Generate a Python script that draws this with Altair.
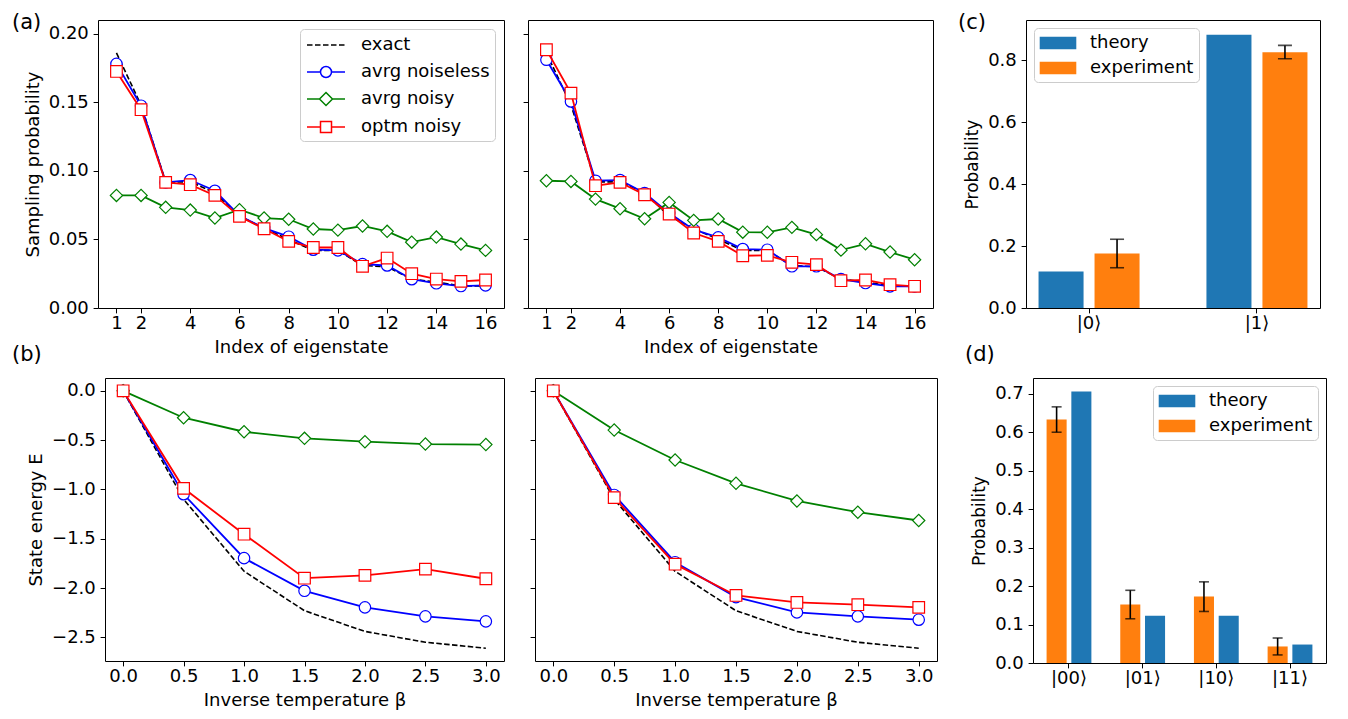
import altair as alt
import pandas as pd

# ---------------- data ----------------
eig_index = list(range(1, 17))
exact_prob = [0.186, 0.148, 0.092, 0.092, 0.084, 0.067, 0.058, 0.050, 0.042, 0.042, 0.031, 0.030, 0.021, 0.019, 0.016, 0.016]
a_left_noiseless = [0.178, 0.1475, 0.0916, 0.0933, 0.0855, 0.0673, 0.0583, 0.052, 0.0425, 0.042, 0.032, 0.031, 0.021, 0.018, 0.016, 0.0165]
a_left_noisy = [0.0821, 0.0821, 0.0734, 0.0714, 0.0656, 0.0717, 0.0656, 0.0647, 0.0576, 0.0568, 0.0598, 0.0559, 0.048, 0.0517, 0.0466, 0.042]
a_left_optm = [0.1725, 0.1446, 0.0916, 0.0899, 0.0821, 0.0668, 0.0578, 0.0486, 0.0441, 0.0441, 0.0304, 0.0364, 0.025, 0.0211, 0.0194, 0.0204]
a_right_noiseless = [0.181, 0.1506, 0.0928, 0.0933, 0.0838, 0.0692, 0.0571, 0.0515, 0.043, 0.0425, 0.0304, 0.0304, 0.0211, 0.0182, 0.0158, 0.0158]
a_right_noisy = [0.0928, 0.0923, 0.0794, 0.0724, 0.0651, 0.077, 0.0639, 0.0649, 0.0553, 0.0552, 0.0588, 0.0535, 0.0422, 0.0468, 0.0408, 0.0352]
a_right_optm = [0.1883, 0.1567, 0.0892, 0.0916, 0.0826, 0.0685, 0.0547, 0.0486, 0.0381, 0.0384, 0.0333, 0.0316, 0.0199, 0.0204, 0.017, 0.0158]

beta = [0.0, 0.5, 1.0, 1.5, 2.0, 2.5, 3.0]
exact_energy = [0.0, -1.10, -1.83, -2.23, -2.44, -2.55, -2.61]
b_left_noiseless = [0.0, -1.049, -1.697, -2.028, -2.196, -2.287, -2.338]
b_left_noisy = [0.0, -0.273, -0.415, -0.482, -0.516, -0.54, -0.545]
b_left_optm = [0.0, -0.989, -1.454, -1.90, -1.872, -1.808, -1.906]
b_right_noiseless = [0.0, -1.056, -1.738, -2.092, -2.247, -2.287, -2.321]
b_right_noisy = [0.0, -0.398, -0.702, -0.938, -1.117, -1.231, -1.315]
b_right_optm = [0.0, -1.083, -1.758, -2.075, -2.146, -2.169, -2.196]

c_states = ["|0⟩", "|1⟩"]
c_theory = [0.118, 0.882]
c_experiment = [0.176, 0.826]
c_err_low = [0.130, 0.805]
c_err_high = [0.222, 0.848]

d_states = ["|00⟩", "|01⟩", "|10⟩", "|11⟩"]
d_theory = [0.706, 0.123, 0.123, 0.048]
d_experiment = [0.633, 0.152, 0.173, 0.043]
d_err_low = [0.600, 0.115, 0.134, 0.021]
d_err_high = [0.666, 0.189, 0.211, 0.065]

series_names = ["exact", "avrg noiseless", "avrg noisy", "optm noisy"]
series_colors = ["#000000", "#0000ff", "#008000", "#ff0000"]
marker_shapes = ["circle", "diamond", "square"]
marker_sizes = [130, 150, 135]
bar_kinds = ["theory", "experiment"]
bar_colors = ["#1f77b4", "#ff7f0e"]

FONT = "DejaVu Sans"
TICK_FS = 18
TITLE_FS = 18
LEG_FS = 18
PANEL_FS = 21

# legend symbols (line + marker)
def seg_line(r):
    return f"M-1.9,0H{-r}M{r},0H1.9"

circle_r = 0.55
legend_paths = [
    "M-1.9,0H-1.35M-1.1,0H-0.55M-0.3,0H0.25M0.5,0H1.05M1.3,0H1.85",
    seg_line(circle_r) + f"M{-circle_r},0A{circle_r},{circle_r} 0 1 0 {circle_r},0A{circle_r},{circle_r} 0 1 0 {-circle_r},0Z",
    seg_line(0.65) + "M0,-0.65L0.65,0L0,0.65L-0.65,0Z",
    seg_line(0.55) + "M-0.55,-0.55H0.55V0.55H-0.55Z",
]
rect_path = "M-1.83,-0.63H1.83V0.63H-1.83Z"


def panel_title(text, dx, dy):
    return alt.TitleParams(text=text, anchor="start", frame="group", fontSize=PANEL_FS,
                           fontWeight="normal", font=FONT, color="black", dx=dx, dy=dy, offset=0)


def spacer():
    return (alt.Chart(pd.DataFrame({"s": [""]})).mark_text().encode(text="s:N")
            .properties(width=1, height=1, view=alt.ViewBackground(stroke="transparent")))


def line_panel(xs, series_vals, xdom, xticks, xfmt, xtitle, ydom, yticks, yfmt, ytitle,
               show_ylabels, legend, width, height, title):
    rows = []
    for name, vals in zip(series_names, series_vals):
        for xv, yv in zip(xs, vals):
            rows.append({"x": xv, "y": yv, "series": name})
    df = pd.DataFrame(rows)
    base = alt.Chart(df)
    xenc = alt.X("x:Q", scale=alt.Scale(domain=xdom, nice=False, zero=False),
                 axis=alt.Axis(values=xticks, format=xfmt, title=xtitle))
    if show_ylabels:
        yaxis = alt.Axis(values=yticks, format=yfmt, title=ytitle)
    else:
        yaxis = alt.Axis(values=yticks, labels=False, title=None)
    yenc = alt.Y("y:Q", scale=alt.Scale(domain=ydom, nice=False, zero=False), axis=yaxis)

    layers = [
        base.transform_filter(alt.datum.series == "exact")
        .mark_line(color="black", strokeDash=[5.5, 2.4], strokeWidth=1.6)
        .encode(x=xenc, y=yenc)
    ]
    for name, color, shape, size in zip(series_names[1:], series_colors[1:], marker_shapes, marker_sizes):
        f = base.transform_filter(alt.datum.series == name)
        layers.append(f.mark_line(color=color, strokeWidth=1.8).encode(x=xenc, y=yenc))
        layers.append(
            f.mark_point(shape=shape, filled=True, fill="white", stroke=color, size=size,
                         strokeWidth=1.2, opacity=1).encode(x=xenc, y=yenc)
        )
    if legend:
        leg = alt.Legend(title=None, orient="top-right", offset=9, symbolSize=400,
                         symbolStrokeWidth=1.5, symbolOpacity=1, labelFontSize=LEG_FS,
                         labelFont=FONT, labelColor="black", padding=5, rowPadding=7,
                         symbolOffset=10, labelOffset=24, fillColor="white",
                         strokeColor="#cccccc", cornerRadius=4)
        ldf = pd.DataFrame({"series": series_names})
        layers.append(
            alt.Chart(ldf).transform_filter(alt.datum.series == "none")
            .mark_point(filled=False, strokeWidth=1.5)
            .encode(
                color=alt.Color("series:N", scale=alt.Scale(domain=series_names, range=series_colors), legend=leg),
                shape=alt.Shape("series:N", scale=alt.Scale(domain=series_names, range=legend_paths), legend=leg),
            )
        )
    return alt.layer(*layers).properties(width=width, height=height, title=title)


def bar_panel(states, theory, experiment, lo, hi, offset_order, pad_in, pad_out, sub_in, sub_out,
              ydom, yticks, legend_orient, cap, width, height, title):
    rows = []
    for s, t, e in zip(states, theory, experiment):
        rows.append({"state": s, "kind": "theory", "prob": t})
        rows.append({"state": s, "kind": "experiment", "prob": e})
    df = pd.DataFrame(rows)
    edf = pd.DataFrame({"state": states, "kind": ["experiment"] * len(states), "lo": lo, "hi": hi})
    xenc = alt.X("state:N", sort=states,
                 scale=alt.Scale(domain=states, paddingInner=pad_in, paddingOuter=pad_out),
                 axis=alt.Axis(title=None, labelAngle=0))
    xo = alt.XOffset("kind:N", sort=offset_order,
                     scale=alt.Scale(domain=offset_order, paddingInner=sub_in, paddingOuter=sub_out))
    yscale = alt.Scale(domain=ydom, nice=False, zero=False)
    leg = alt.Legend(title=None, orient=legend_orient, offset=8, symbolType=rect_path, symbolSize=400,
                     labelFontSize=LEG_FS, labelFont=FONT, labelColor="black", padding=5, rowPadding=6,
                     symbolOffset=9, labelOffset=22, fillColor="white", strokeColor="#cccccc",
                     cornerRadius=4, symbolStrokeWidth=0)
    bars = alt.Chart(df).mark_bar().encode(
        x=xenc, xOffset=xo,
        y=alt.Y("prob:Q", scale=yscale,
                axis=alt.Axis(values=yticks, format=".1f", title="Probability", titleFontSize=17)),
        color=alt.Color("kind:N", scale=alt.Scale(domain=bar_kinds, range=bar_colors), legend=leg),
    )
    rule = alt.Chart(edf).mark_rule(color="black", strokeWidth=1.6).encode(
        x=xenc, xOffset=xo, y=alt.Y("lo:Q", scale=yscale), y2="hi:Q")
    cap_lo = alt.Chart(edf).mark_tick(color="black", thickness=1.6, size=cap, orient="horizontal").encode(
        x=xenc, xOffset=xo, y=alt.Y("lo:Q", scale=yscale))
    cap_hi = alt.Chart(edf).mark_tick(color="black", thickness=1.6, size=cap, orient="horizontal").encode(
        x=xenc, xOffset=xo, y=alt.Y("hi:Q", scale=yscale))
    return alt.layer(bars, rule, cap_lo, cap_hi).properties(width=width, height=height, title=title)


top_x = dict(xdom=[0.25, 16.75], xticks=[1, 2, 4, 6, 8, 10, 12, 14, 16], xfmt="d", xtitle="Index of eigenstate",
             ydom=[0, 0.21], yticks=[0, 0.05, 0.10, 0.15, 0.20], yfmt=".2f")
bot_x = dict(xdom=[-0.15, 3.15], xticks=[0, 0.5, 1, 1.5, 2, 2.5, 3], xfmt=".1f", xtitle="Inverse temperature β",
             ydom=[-2.74, 0.13], yticks=[0, -0.5, -1, -1.5, -2, -2.5], yfmt=".1f")

a1 = line_panel(eig_index, [exact_prob, a_left_noiseless, a_left_noisy, a_left_optm], ytitle="Sampling probability",
                show_ylabels=True, legend=True, width=406, height=288, title=panel_title("(a)", -86, 13), **top_x)
a2 = line_panel(eig_index, [exact_prob, a_right_noiseless, a_right_noisy, a_right_optm], ytitle=None,
                show_ylabels=False, legend=False, width=405, height=288, title=panel_title(" ", 0, 13), **top_x)
b1 = line_panel(beta, [exact_energy, b_left_noiseless, b_left_noisy, b_left_optm], ytitle="State energy E",
                show_ylabels=True, legend=False, width=399, height=283, title=panel_title("(b)", -93, -13), **bot_x)
b2 = line_panel(beta, [exact_energy, b_right_noiseless, b_right_noisy, b_right_optm], ytitle=None,
                show_ylabels=False, legend=False, width=402, height=283, title=panel_title(" ", 0, -13), **bot_x)

c = bar_panel(c_states, c_theory, c_experiment, c_err_low, c_err_high, ["theory", "experiment"],
              0.333, 0.042, 0.196, 0.098, [0, 0.93], [0, 0.2, 0.4, 0.6, 0.8], "top-left", 14,
              294, 288, panel_title("(c)", -68, 13))
d = bar_panel(d_states, d_theory, d_experiment, d_err_low, d_err_high, ["experiment", "theory"],
              0.32, 0.1485, 0.19, 0.107, [0, 0.741], [0, 0.1, 0.2, 0.3, 0.4, 0.5, 0.6, 0.7], "top-right", 10,
              293, 285, panel_title("(d)", -68, -13))

RES = dict(color="independent", shape="independent", xOffset="independent", x="independent", y="independent")
LRES = dict(color="independent", shape="independent")


def indep(ch):
    return ch.resolve_scale(**RES).resolve_legend(**LRES)


row1 = indep(alt.hconcat(spacer(), indep(alt.hconcat(indep(alt.hconcat(a1, a2, spacing=17)), c, spacing=23)),
                         spacing=0))
row2 = indep(alt.hconcat(spacer(), indep(alt.hconcat(indep(alt.hconcat(b1, b2, spacing=24)), d, spacing=26)),
                         spacing=0))

chart = (
    indep(alt.concat(row1, row2, columns=1, align="none", spacing=-14))
    .properties(padding={"left": 0, "top": 3, "right": 0, "bottom": 0}, background="white")
    .configure(font=FONT)
    .configure_view(stroke="black", strokeWidth=1)
    .configure_axis(
        domain=False, grid=False, tickColor="black", tickSize=4.9, tickWidth=1,
        labelFont=FONT, labelFontSize=TICK_FS, labelColor="black",
        titleFont=FONT, titleFontSize=TITLE_FS, titleFontWeight="normal", titleColor="black",
        titlePadding=6,
    )
    .configure_axisX(labelPadding=1.6)
    .configure_axisY(labelPadding=4.8)
)

chart.save("out.html", embed_options={"renderer": "svg", "actions": False})
